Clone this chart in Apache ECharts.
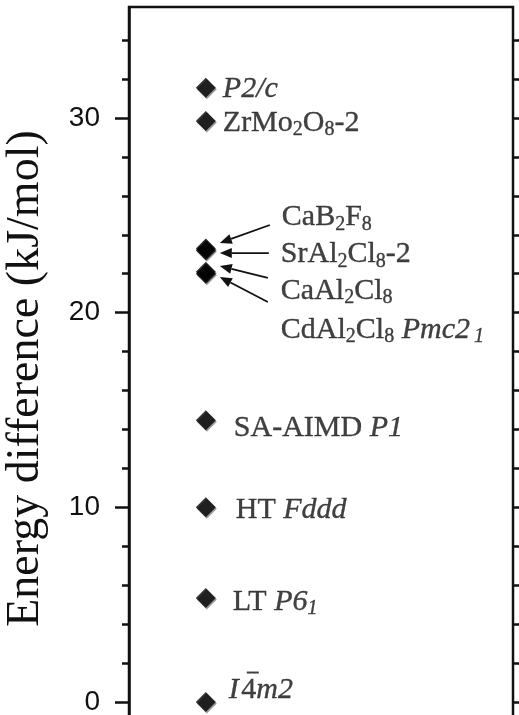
<!DOCTYPE html>
<html>
<head>
<meta charset="utf-8">
<script src="https://cdn.jsdelivr.net/npm/echarts@6/dist/echarts.min.js"></script>
<style>
html,body{margin:0;padding:0;background:#fff;}
#c{width:519px;height:715px;}
</style>
</head>
<body>
<div id="c"></div>
<script>
// ---- data ----
const structures = ['P2/c', 'ZrMo2O8-2', 'CaB2F8', 'SrAl2Cl8-2', 'CaAl2Cl8', 'CdAl2Cl8 Pmc21', 'SA-AIMD P1', 'HT Fddd', 'LT P61', 'I-4m2'];
const energies = [31.55, 29.85, 23.3, 23.2, 22.1, 22.0, 14.48, 10.0, 5.34, 0.0];
const xPos = 0.2; // all structures placed in a single column
const labelTexts = [
  '{i|P2/c}',
  '{r|ZrMo}{s|2}{r|O}{s|8}{r|-2}',
  '{r|CaB}{s|2}{r|F}{s|8}',
  '{r|SrAl}{s|2}{r|Cl}{s|8}{r|-2}',
  '{r|CaAl}{s|2}{r|Cl}{s|8}',
  '{r|CdAl}{s|2}{r|Cl}{s|8}{r| }{i|Pmc2}{si2|1}',
  '{r|SA-AIMD }{i|P1}',
  '{r|HT }{i|Fddd}',
  '{r|LT }{i|P6}{si|1}',
  '{sp| }{bar| }\n{i|I}{r|\u200a4}{i|m2}'
];
const majorTicks = [0, 10, 20, 30];
const minorTicks = [0, 2, 4, 6, 8, 10, 12, 14, 16, 18, 20, 22, 24, 26, 28, 30, 32, 34];
const yMin = -0.82, yMax = 35.7;

// ---- styles ----
const INK = '#111';
const labelOffsets = [[7,1],[7,2],[66,-31],[65,4],[65,19],[65,56],[18,8],[20,3],[17,4],[13,-15]];
// arrows: [point index, tipDx, tipDy, tailDx, tailDy] (pixels relative to the point)
const arrows = [[2,14,-5.4,64,-23.4],[3,14,2.7,63,2.7],[4,14,-5.8,62,6.2],[5,14,3.3,62,28.3]];

const serif = '"Liberation Serif", "Times New Roman", serif';
const tb = {textBorderColor: INK, textBorderWidth: 0.35};
const rich = {
  r: Object.assign({fontFamily: serif, fontSize: 30, lineHeight: 34, color: INK}, tb),
  i: Object.assign({fontFamily: serif, fontSize: 30, lineHeight: 34, fontStyle: 'italic', color: INK}, tb),
  s: Object.assign({fontFamily: serif, fontSize: 20, lineHeight: 15, verticalAlign: 'bottom', color: INK}, tb),
  si: Object.assign({fontFamily: serif, fontSize: 20, lineHeight: 15, verticalAlign: 'bottom', fontStyle: 'italic', color: INK}, tb),
  si2: Object.assign({fontFamily: serif, fontSize: 20, lineHeight: 15, verticalAlign: 'bottom', fontStyle: 'italic', color: INK, padding: [0, 0, 0, 4]}, tb),
  sp: {fontSize: 2, width: 18, lineHeight: 7, height: 2},
  bar: {fontSize: 2, width: 12, height: 2, lineHeight: 7, verticalAlign: 'bottom', backgroundColor: INK}
};

const chart = echarts.init(document.getElementById('c'), null, {renderer: 'canvas'});

const baseY = {type: 'value', min: yMin, max: yMax, splitLine: {show: false}};

chart.setOption({
  backgroundColor: '#fff',
  animation: false,
  grid: {left: 129, right: 6, top: 7, bottom: -3, containLabel: false, outerBoundsMode: 'none',
         show: true, borderColor: INK, borderWidth: 2.5, backgroundColor: 'transparent'},
  xAxis: {type: 'value', min: 0, max: 1, show: false},
  yAxis: [
    Object.assign({}, baseY, {
      position: 'left',
      name: 'Energy difference (kJ/mol)',
      nameLocation: 'middle',
      nameRotate: 90,
      nameGap: 80,
      nameTextStyle: {fontFamily: serif, fontSize: 46, color: INK, padding: [0, 32, 0, 0]},
      axisLine: {show: true, lineStyle: {color: INK, width: 2.5}},
      axisTick: {show: true, inside: false, length: 14, customValues: majorTicks, lineStyle: {color: INK, width: 2.5}},
      axisLabel: {show: true, customValues: majorTicks, margin: 29, fontFamily: '"Liberation Sans", Arial, sans-serif', fontSize: 28, color: INK}
    }),
    Object.assign({}, baseY, {
      position: 'left',
      axisLine: {show: false},
      axisTick: {show: true, inside: false, length: 7, customValues: minorTicks, lineStyle: {color: INK, width: 2.5}},
      axisLabel: {show: false}
    }),
    Object.assign({}, baseY, {
      position: 'right',
      axisLine: {show: false},
      axisTick: {show: true, inside: false, length: 6, customValues: minorTicks, lineStyle: {color: INK, width: 2.5}},
      axisLabel: {show: false}
    })
  ],
  series: [{
    type: 'scatter',
    yAxisIndex: 0,
    symbol: 'diamond',
    symbolSize: 20,
    itemStyle: {color: '#000', shadowColor: 'rgba(0,0,0,0.5)', shadowOffsetX: 1, shadowOffsetY: 1.5, shadowBlur: 0},
    data: energies.map((e, k) => ({
      name: structures[k],
      value: [xPos, e],
      label: {
        show: true, position: 'right', distance: 0,
        offset: labelOffsets[k],
        formatter: labelTexts[k],
        rich: rich
      }
    })),
    emphasis: {disabled: true}
  }]
});

// arrows from cluster labels to their points, placed via the chart's own scale
const g = [];
arrows.forEach(([idx, tdx, tdy, sdx, sdy]) => {
  const p = chart.convertToPixel({seriesIndex: 0}, [xPos, energies[idx]]);
  const tip = [p[0] + tdx, p[1] + tdy];
  const tail = [p[0] + sdx, p[1] + sdy];
  const ang = Math.atan2(tip[1] - tail[1], tip[0] - tail[0]);
  const L = 12, W = 5;
  const bx = tip[0] - L * Math.cos(ang), by = tip[1] - L * Math.sin(ang);
  const nx = -Math.sin(ang), ny = Math.cos(ang);
  g.push({type: 'line', shape: {x1: tail[0], y1: tail[1], x2: bx, y2: by}, style: {stroke: INK, lineWidth: 1.8}, silent: true});
  g.push({type: 'polygon', shape: {points: [tip, [bx + nx * W, by + ny * W], [bx - nx * W, by - ny * W]]}, style: {fill: INK}, silent: true});
});
chart.setOption({graphic: g});
</script>
</body>
</html>
